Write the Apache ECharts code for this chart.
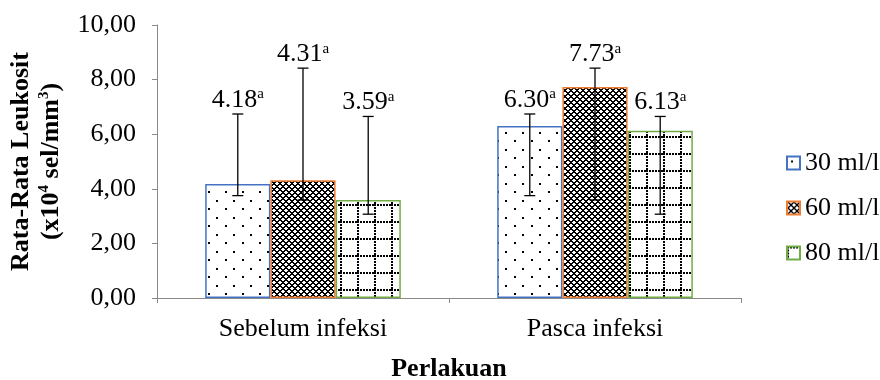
<!DOCTYPE html>
<html>
<head>
<meta charset="utf-8">
<script src="https://cdn.jsdelivr.net/npm/echarts@6/dist/echarts.min.js"></script>
<style>
  html, body { margin: 0; padding: 0; background: #fff; }
  #chart { width: 880px; height: 380px; }
</style>
</head>
<body>
<div id="chart"></div>
<script>
// Mean leukocyte counts (x10^4 sel/mm^3) per treatment period and dose
const categories = ['Sebelum infeksi', 'Pasca infeksi'];
const seriesNames = ['30 ml/l', '60 ml/l', '80 ml/l'];
const mean30 = [4.18, 6.30];
const mean60 = [4.31, 7.73];
const mean80 = [3.59, 6.13];
// Error bar ends (low / high)
const errLow30 = [3.75, 3.75];
const errHigh30 = [6.74, 6.74];
const errLow60 = [3.59, 3.59];
const errHigh60 = [8.42, 8.42];
const errLow80 = [3.07, 3.07];
const errHigh80 = [6.65, 6.65];
// Significance letters
const letters30 = ['a', 'a'];
const letters60 = ['a', 'a'];
const letters80 = ['a', 'a'];
// Value-axis tick labels
const yTickLabels = ['0,00', '2,00', '4,00', '6,00', '8,00', '10,00'];

const FONT = "'Liberation Serif', 'Times New Roman', serif";
const BAR_GAP_RATIO = 0.33;

// Fill patterns drawn on small canvases
function makeTile(w, h, draw) {
  const c = document.createElement('canvas');
  c.width = w; c.height = h;
  const g = c.getContext('2d');
  g.fillStyle = '#fff';
  g.fillRect(0, 0, w, h);
  draw(g);
  return c;
}
const dotsTile = makeTile(17, 17, g => {
  g.fillStyle = '#000';
  g.fillRect(4, 4, 2, 2);
  g.fillRect(12, 13, 2, 2);
});
const checkTile = makeTile(6, 6, g => {
  g.fillStyle = '#000';
  for (let x = 0; x < 6; x++) {
    for (let y = 0; y < 6; y++) {
      const a = (x + y) % 6, b = (x - y + 6) % 6;
      if (a === 0 || a === 1 || b === 0 || b === 1) g.fillRect(x, y, 1, 1);
    }
  }
});
const gridTile = makeTile(17, 17, g => {
  g.fillStyle = '#000';
  for (let i = 0; i < 17; i++) {
    if (i % 3 !== 2) {
      g.fillRect(i, 0, 1, 2);
      g.fillRect(0, i, 2, 1);
    }
  }
});

const patterns = [
  { image: dotsTile, repeat: 'repeat' },
  { image: checkTile, repeat: 'repeat' },
  { image: gridTile, repeat: 'repeat' }
];
const borders = ['#4472C4', '#ED7D31', '#70AD47'];
const means = [mean30, mean60, mean80];
const lows = [errLow30, errLow60, errLow80];
const highs = [errHigh30, errHigh60, errHigh80];
const letters = [letters30, letters60, letters80];

const barSeries = seriesNames.map((name, k) => ({
  name: name,
  type: 'bar',
  data: means[k],
  barGap: '0%',
  barCategoryGap: (BAR_GAP_RATIO * 100) + '%',
  itemStyle: { color: patterns[k], borderColor: borders[k], borderWidth: 1.5 }
}));

// Error bars and value labels, positioned from the same scale as the bars
const errorSeries = seriesNames.map((name, k) => ({
  name: name + ' error',
  type: 'custom',
  z: 5,
  data: categories.map((c, i) => [i, lows[k][i], highs[k][i], means[k][i], k]),
  renderItem: function (params, api) {
    const cat = api.value(0);
    const band = api.size([1, 0])[0];
    const barW = band * (1 - BAR_GAP_RATIO) / seriesNames.length;
    const center = api.coord([cat, 0])[0];
    const x = center + (api.value(4) - 1) * barW;
    const yLo = api.coord([cat, api.value(1)])[1];
    const yHi = api.coord([cat, api.value(2)])[1];
    const mean = api.value(3);
    const letter = letters[api.value(4)][cat];
    const st = { stroke: '#000', lineWidth: 1.3 };
    return {
      type: 'group',
      children: [
        { type: 'line', shape: { x1: x, y1: yLo, x2: x, y2: yHi }, style: st },
        { type: 'line', shape: { x1: x - 5.5, y1: yLo, x2: x + 5.5, y2: yLo }, style: st },
        { type: 'line', shape: { x1: x - 5.5, y1: yHi, x2: x + 5.5, y2: yHi }, style: st },
        {
          type: 'text',
          x: x,
          y: yHi - 14,
          style: {
            text: '{v|' + mean.toFixed(2) + '}{s|' + letter + '}',
            align: 'center',
            verticalAlign: 'middle',
            rich: {
              v: { fontFamily: FONT, fontSize: 26, lineHeight: 26, fill: '#000' },
              s: { fontFamily: FONT, fontSize: 15, lineHeight: 15, verticalAlign: 'top', fill: '#000' }
            }
          }
        }
      ]
    };
  }
}));

const chart = echarts.init(document.getElementById('chart'), null, { renderer: 'canvas' });
chart.setOption({
  animation: false,
  backgroundColor: '#fff',
  textStyle: { fontFamily: FONT },
  grid: { left: 157, right: 139, top: 25, bottom: 82, containLabel: false, outerBoundsMode: 'none' },
  legend: {
    data: seriesNames,
    orient: 'vertical',
    left: 781,
    top: 145,
    itemWidth: 13,
    itemHeight: 13,
    itemGap: 19,
    icon: 'rect',
    textStyle: { fontFamily: FONT, fontSize: 26, color: '#000' }
  },
  xAxis: {
    type: 'category',
    data: categories,
    name: 'Perlakuan',
    nameLocation: 'middle',
    nameGap: 58,
    nameTextStyle: { fontFamily: FONT, fontSize: 26, fontWeight: 'bold', color: '#000' },
    axisLine: { lineStyle: { color: '#898989', width: 1 } },
    axisTick: { show: true, length: 5, lineStyle: { color: '#898989' } },
    axisLabel: { fontFamily: FONT, fontSize: 26, color: '#000', margin: 18 }
  },
  yAxis: {
    type: 'value',
    min: 0,
    max: 10,
    interval: 2,
    name: '{b|Rata-Rata Leukosit}\n{b|(x10}{p|4}{b| sel/mm}{p|3}{b|)}',
    nameLocation: 'middle',
    nameRotate: 90,
    nameGap: 89,
    nameTextStyle: {
      fontFamily: FONT, fontSize: 26, fontWeight: 'bold', color: '#000', lineHeight: 30,
      rich: {
        b: { fontFamily: FONT, fontSize: 26, fontWeight: 'bold', color: '#000', lineHeight: 30 },
        p: { fontFamily: FONT, fontSize: 15, fontWeight: 'bold', color: '#000', lineHeight: 15, verticalAlign: 'top' }
      }
    },
    axisLine: { show: true, lineStyle: { color: '#898989', width: 1 } },
    axisTick: { show: true, length: 5, lineStyle: { color: '#898989' } },
    splitLine: { show: false },
    axisLabel: {
      fontFamily: FONT, fontSize: 26, color: '#000', margin: 21,
      padding: [9, 0, 0, 0],
      formatter: v => yTickLabels[Math.round(v / 2)]
    }
  },
  series: barSeries.concat(errorSeries)
});
</script>
</body>
</html>
